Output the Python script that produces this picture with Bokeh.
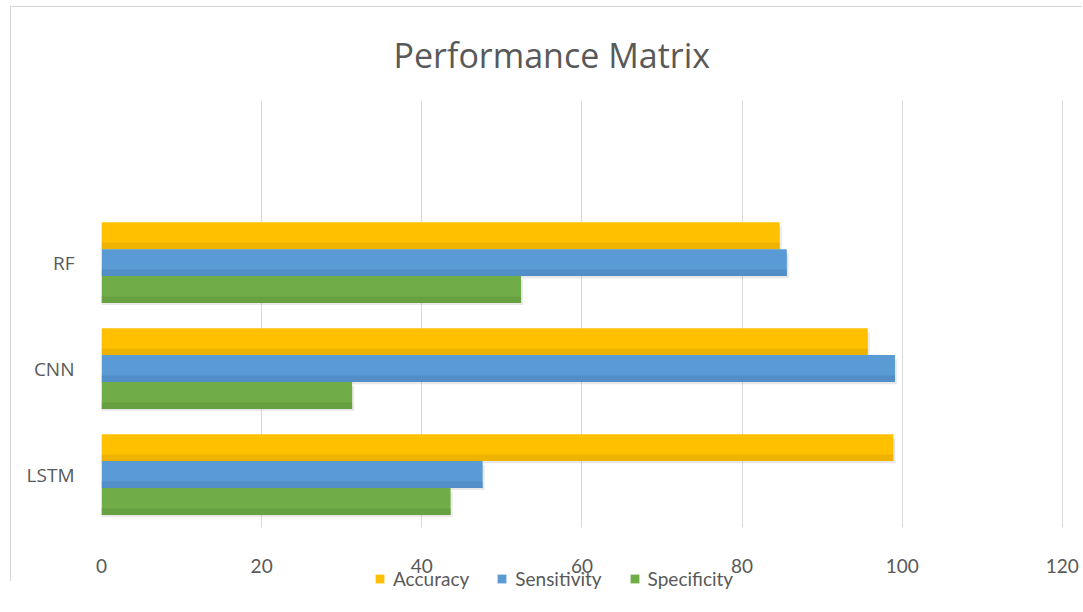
from bokeh.plotting import figure
from bokeh.layouts import column
from bokeh.models import FixedTicker, Range1d, Legend, LegendItem, ColumnDataSource
from bokeh.embed import file_html
from bokeh.resources import INLINE

# Model scores (%)
models = ["LSTM", "CNN", "RF"]
accuracy = [98.9, 95.7, 84.7]
sensitivity = [47.6, 99.1, 85.6]
specificity = [43.6, 31.3, 52.4]
x_ticks = [0, 20, 40, 60, 80, 100, 120]

series = [
    ("Accuracy", accuracy, "#FFC000", "#E0A800", 0.254),
    ("Sensitivity", sensitivity, "#5B9BD5", "#4A84BC", 0.0),
    ("Specificity", specificity, "#70AD47", "#5E953A", -0.254),
]
bar_h = 0.254
pos = list(range(len(models)))
GREY = "#595959"

p = figure(
    width=1072, height=575,
    x_range=Range1d(0, 120.15), y_range=Range1d(-0.5, 3.53),
    output_backend="svg", toolbar_location=None,
    min_border_left=90, min_border_right=20,
    min_border_top=93, min_border_bottom=55,
    margin=(6, 0, 0, 10),
    styles={"border-top": "1px solid #d6d6d6", "border-left": "1px solid #d6d6d6"},
)

p.title.text = "Performance Matrix"
p.title.text_font = "Open Sans"
p.title.text_font_size = "34px"
p.title.text_font_style = "normal"
p.title.text_color = GREY
p.title.align = "left"
p.title.offset = 292
p.title.standoff = 45

sources = []
for name, vals, color, dark, shift in series:
    ys = [y + shift for y in pos]
    src = ColumnDataSource(dict(y=ys, right=vals))
    sources.append(src)
    # soft drop shadow
    shadow = ColumnDataSource(dict(y=[y - 0.03 for y in ys], right=[v + 0.25 for v in vals]))
    p.hbar(y="y", right="right", left=0, height=bar_h * 0.92, source=shadow,
           fill_color="#7f7f7f", fill_alpha=0.18, line_color=None)
    p.hbar(y="y", right="right", left=0, height=bar_h, source=src,
           fill_color=color, line_color=None)
    # darker lower edge
    edge = ColumnDataSource(dict(y=[y - bar_h * 0.38 for y in ys], right=vals))
    p.hbar(y="y", right="right", left=0, height=bar_h * 0.24, source=edge,
           fill_color=dark, fill_alpha=0.55, line_color=None)

p.xaxis.ticker = FixedTicker(ticks=x_ticks)
p.yaxis.ticker = FixedTicker(ticks=pos)
p.yaxis.major_label_overrides = {i: m for i, m in enumerate(models)}

for ax in (p.xaxis, p.yaxis):
    ax.axis_line_color = None
    ax.major_tick_line_color = None
    ax.minor_tick_line_color = None
    ax.major_label_text_color = GREY

p.xaxis.major_label_text_font = "Lato"
p.xaxis.major_label_text_font_size = "19px"
p.xaxis.major_label_standoff = 25
p.yaxis.major_label_text_font = "Open Sans"
p.yaxis.major_label_text_font_size = "19px"
p.yaxis.major_label_standoff = 21

p.xgrid.ticker = FixedTicker(ticks=x_ticks)
p.xgrid.grid_line_color = "#d9d9d9"
p.ygrid.grid_line_color = None
p.outline_line_color = None
p.background_fill_color = "white"
p.border_fill_color = "white"

# transparent legend strip, pulled up under the tick labels
lg = figure(
    width=1072, height=40,
    x_range=Range1d(0, 1), y_range=Range1d(10, 11),
    x_axis_location=None, y_axis_location=None,
    output_backend="svg", toolbar_location=None,
    min_border=0, margin=(-14, 0, 0, 11),
)
lg.grid.visible = False
lg.outline_line_color = None
lg.background_fill_alpha = 0
lg.border_fill_alpha = 0

items = []
for (name, vals, color, dark, shift), src in zip(series, sources):
    r = lg.hbar(y="y", right="right", left=0, height=bar_h, source=src,
                fill_color=color, line_color=None)
    items.append(LegendItem(label=name, renderers=[r]))

legend = Legend(
    items=items, orientation="horizontal", location=(273, 17),
    glyph_width=11, glyph_height=11, label_standoff=8, spacing=27,
    padding=0, margin=0, border_line_color=None, background_fill_alpha=0,
    label_text_font="Lato", label_text_font_size="19px",
    label_text_color=GREY, label_height=20,
)
lg.add_layout(legend, "center")

layout = column(p, lg, spacing=0)
open("out.html", "w").write(file_html(layout, INLINE))
